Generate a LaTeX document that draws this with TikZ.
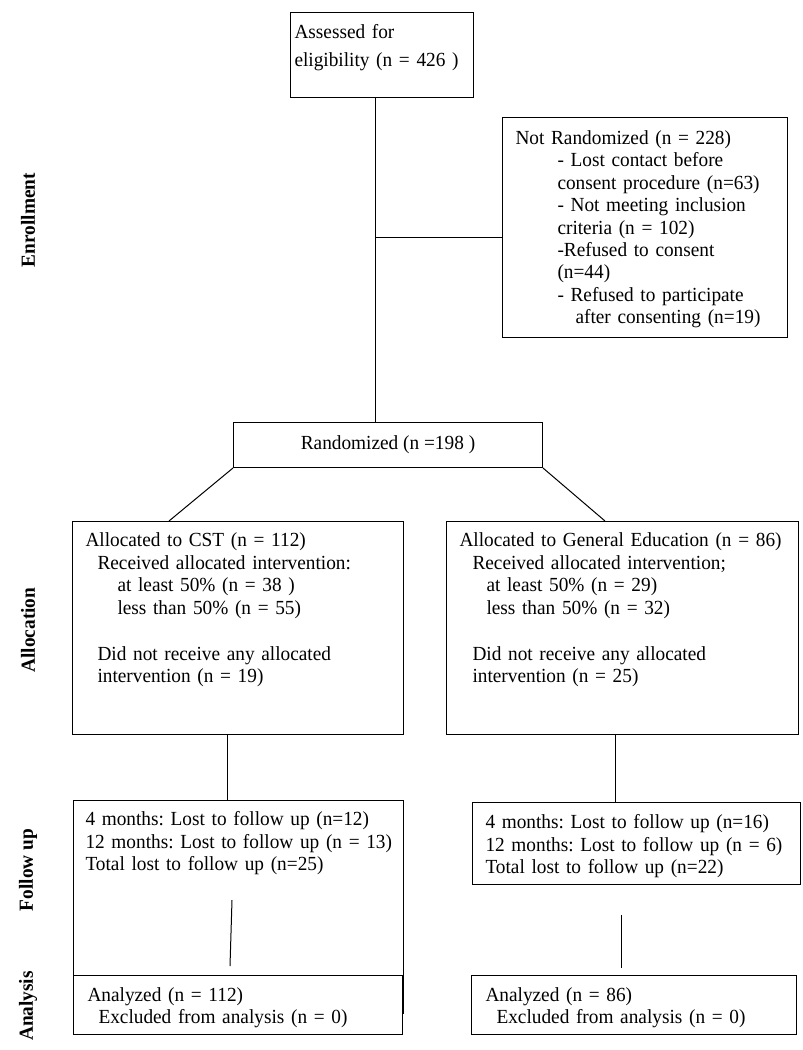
\documentclass[tikz,border=0pt]{standalone}
\usepackage{fontspec}
\setmainfont[FakeStretch=0.965]{Liberation Serif}
\usepackage{tikz}
\frenchspacing

\begin{document}
\begin{tikzpicture}[x=1pt,y=-1pt,
  flowbox/.style={draw,line width=1pt,anchor=north west,align=left,inner sep=0pt,
    font=\fontsize{20}{22.7}\selectfont},
  plainbox/.style={draw,line width=1pt,anchor=north west,inner sep=0pt,
    font=\fontsize{20}{22.7}\selectfont},
  phase/.style={rotate=90,font=\fontsize{20}{22}\selectfont\bfseries},
  link/.style={line width=1pt}]
\useasboundingbox (0,0) rectangle (803,1050);

% phase labels on the left
\node[phase] (enrol) at (28,220) {Enrollment};
\node[phase] (alloc) at (28,630) {Allocation};
\node[phase] (follow) at (28,870) {Follow up};
\node[phase] (anal) at (28,1006) {Analysis};

% enrollment
\node[flowbox,minimum width=183pt,text width=175pt,text height=26pt,text depth=59pt] (assess) at (290,12)
  {Assessed for\\[5pt]eligibility (n = 426 )};
\node[flowbox,minimum width=285pt,text width=259pt,text height=27pt,text depth=193pt] (notrand) at (502,117)
  {Not Randomized (n = 228)\\[-0.3pt]
   \hspace*{42pt}- Lost contact before\\[-0.3pt]
   \hspace*{42pt}\mbox{consent procedure (n=63)}\\[-0.3pt]
   \hspace*{42pt}- Not meeting inclusion\\[-0.3pt]
   \hspace*{42pt}criteria (n = 102)\\[-0.3pt]
   \hspace*{42pt}-Refused to consent\\[-0.3pt]
   \hspace*{42pt}(n=44)\\[-0.3pt]
   \hspace*{42pt}- Refused to participate\\[-0.3pt]
   \hspace*{60pt}\mbox{after consenting (n=19)}};
\node[plainbox,minimum width=309pt,minimum height=45pt] (rand) at (233,422) {Randomized (n =198 )};

% allocation
\node[flowbox,minimum width=331pt,text width=305pt,text height=25pt,text depth=188pt] (cst) at (72,521)
  {Allocated to CST (n = 112)\\
   \hspace*{12pt}Received allocated intervention:\\
   \hspace*{32pt}at least 50\% (n = 38 )\\
   \hspace*{32pt}less than 50\% (n = 55)\\[22.7pt]
   \hspace*{12pt}Did not receive any allocated\\
   \hspace*{12pt}intervention (n = 19)};
\node[flowbox,minimum width=352pt,text width=326pt,text height=25pt,text depth=188pt] (gen) at (446,521)
  {\mbox{Allocated to General Education (n = 86)}\\
   \hspace*{13pt}Received allocated intervention;\\
   \hspace*{27pt}at least 50\% (n = 29)\\
   \hspace*{27pt}less than 50\% (n = 32)\\[22.7pt]
   \hspace*{13pt}Did not receive any allocated\\
   \hspace*{13pt}intervention (n = 25)};

% follow up
\node[flowbox,minimum width=330pt,text width=306pt,text height=25pt,text depth=188pt] (fcst) at (73,800)
  {\mbox{4 months: Lost to follow up (n=12)}\\
   \mbox{12 months: Lost to follow up (n = 13)}\\
   Total lost to follow up (n=25)};
\node[flowbox,minimum width=328pt,text width=302pt,text height=26pt,text depth=56pt] (fgen) at (472,802)
  {\mbox{4 months: Lost to follow up (n=16)}\\
   \mbox{12 months: Lost to follow up (n = 6)}\\
   Total lost to follow up (n=22)};

% analysis
\node[flowbox,fill=white,minimum width=329pt,text width=301pt,text height=26pt,text depth=33pt] (acst) at (73,975)
  {Analyzed (n = 112)\\[-0.7pt]
   \hspace*{11pt}Excluded from analysis (n = 0)};
\node[flowbox,minimum width=325pt,text width=297pt,text height=26pt,text depth=33pt] (agen) at (471,975)
  {Analyzed (n = 86)\\[-0.7pt]
   \hspace*{11pt}Excluded from analysis (n = 0)};

% connectors
\coordinate (split) at (375,237);
\coordinate (cdrop) at (227,0);
\coordinate (gdrop) at (615,0);
\coordinate (cgapa) at (232,900);
\coordinate (cgapb) at (230,966);
\coordinate (ggapa) at (621,915);
\coordinate (ggapb) at (621,968);
\draw[link] (split |- assess.south) -- (split |- rand.north);
\draw[link] (split) -- (split -| notrand.west);
\draw[link] (rand.south west) -- ([xshift=97pt]cst.north west);
\draw[link] (rand.south east) -- ([xshift=159pt]gen.north west);
\draw[link] (cdrop |- cst.south) -- (cdrop |- fcst.north);
\draw[link] (gdrop |- gen.south) -- (gdrop |- fgen.north);
\draw[link] (cgapa) -- (cgapb);
\draw[link] (ggapa) -- (ggapb);
\end{tikzpicture}
\end{document}
